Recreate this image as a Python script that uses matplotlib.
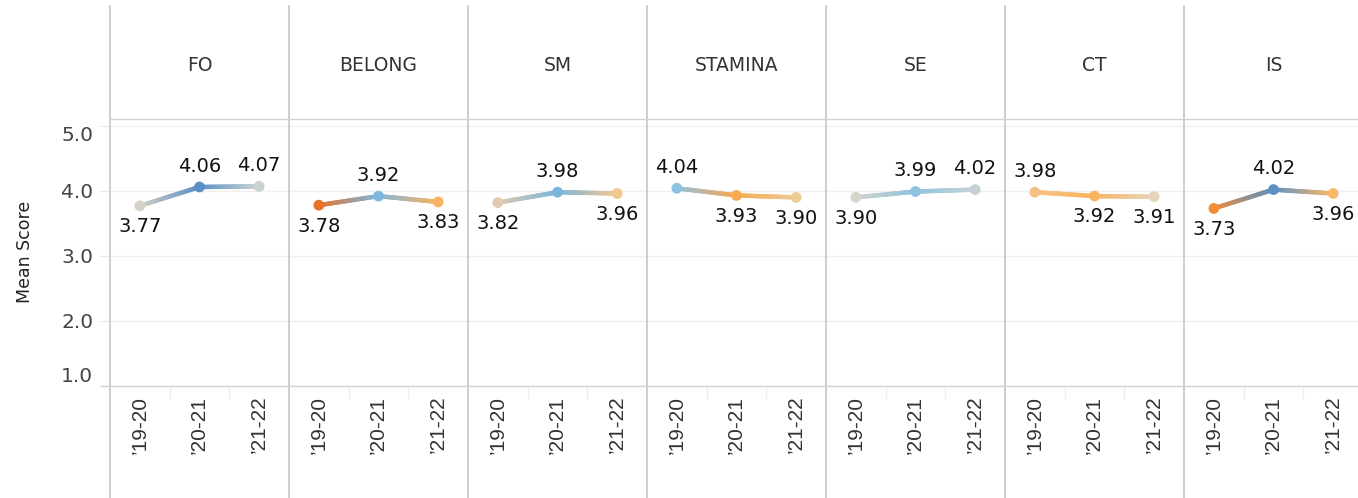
import numpy as np
import matplotlib.pyplot as plt
from matplotlib.collections import LineCollection
from matplotlib.colors import to_rgb
from matplotlib.lines import Line2D

# mean score per construct and school year
constructs = ["FO", "BELONG", "SM", "STAMINA", "SE", "CT", "IS"]
years = ["\u201919-20", "\u201920-21", "\u201921-22"]
scores = {
    "FO":      [3.77, 4.06, 4.07],
    "BELONG":  [3.78, 3.92, 3.83],
    "SM":      [3.82, 3.98, 3.96],
    "STAMINA": [4.04, 3.93, 3.90],
    "SE":      [3.90, 3.99, 4.02],
    "CT":      [3.98, 3.92, 3.91],
    "IS":      [3.73, 4.02, 3.96],
}
# colour of each point (orange-blue diverging scale)
point_colors = {
    "FO":      ["#d6d2c6", "#5b8fc6", "#c9d3d3"],
    "BELONG":  ["#e8722a", "#7fb6dd", "#f9b25f"],
    "SM":      ["#e0cdb0", "#7ab4dc", "#f0c890"],
    "STAMINA": ["#8ec0e2", "#f7a950", "#efcb96"],
    "SE":      ["#d5d5ca", "#90c2e0", "#c5d3d6"],
    "CT":      ["#f5c285", "#f8b560", "#e5d5bc"],
    "IS":      ["#f08e35", "#5b90c5", "#f8b868"],
}
# where the value label sits: +1 above the point, -1 below
label_side = {
    "FO":      [-1, 1, 1],
    "BELONG":  [-1, 1, -1],
    "SM":      [-1, 1, -1],
    "STAMINA": [1, -1, -1],
    "SE":      [-1, 1, 1],
    "CT":      [1, -1, -1],
    "IS":      [-1, 1, -1],
}
yticks = [1.0, 2.0, 3.0, 4.0, 5.0]

W, H = 1358, 498
fig = plt.figure(figsize=(W / 100, H / 100), dpi=100)
fig.patch.set_facecolor("white")

def fx(px):
    return px / W

def fy(py):
    return 1 - py / H

x0, pw = 110, 179
plot_top, plot_bot = 120, 386
border = "#c6c6c6"

for i, name in enumerate(constructs):
    left = x0 + i * pw
    # header cell
    fig.text(fx(left + pw / 2), fy(65), name, ha="center", va="center",
             fontsize=13.5, color="#333333")

    ax = fig.add_axes([fx(left), fy(plot_bot), fx(pw), (plot_bot - plot_top) / H])
    ax.set_xlim(-0.5, 2.5)
    ax.set_ylim(1.0, 5.09)
    for s in ax.spines.values():
        s.set_visible(False)
    ax.set_yticks(yticks)
    ax.yaxis.grid(True, color="#efefef", linewidth=1)
    ax.set_axisbelow(True)

    xs = np.arange(len(years))
    ys = np.array(scores[name])
    cols = [to_rgb(c) for c in point_colors[name]]

    # gradient line between consecutive points
    segs, segcols = [], []
    n = 40
    for k in range(len(xs) - 1):
        t = np.linspace(0, 1, n + 1)
        px = xs[k] + (xs[k + 1] - xs[k]) * t
        py = ys[k] + (ys[k + 1] - ys[k]) * t
        for j in range(n):
            segs.append([(px[j], py[j]), (px[j + 1], py[j + 1])])
            tm = (t[j] + t[j + 1]) / 2
            segcols.append(tuple(np.array(cols[k]) * (1 - tm) + np.array(cols[k + 1]) * tm))
    lc = LineCollection(segs, colors=segcols, linewidths=3.2, capstyle="round", zorder=2)
    ax.add_collection(lc)
    ax.scatter(xs, ys, s=60, c=point_colors[name], zorder=3, linewidths=0)

    for k in range(len(xs)):
        ax.annotate(f"{ys[k]:.2f}", (xs[k], ys[k]),
                    xytext=(0, 15 * label_side[name][k]), textcoords="offset points",
                    ha="center", va="center", fontsize=14, color="#111111")

    ax.set_xticks(xs)
    ax.set_xticklabels(years, rotation=90, fontsize=15, color="#333333",
                       fontfamily="Liberation Sans")
    ax.tick_params(axis="x", length=0, pad=7)
    ax.set_xticks([0.5, 1.5], minor=True)
    ax.tick_params(axis="x", which="minor", length=9, color="#eeeeee", width=1)
    if i == 0:
        ax.set_yticklabels([f"{v:.1f}" for v in yticks], fontsize=14.5, color="#444444")
        ax.tick_params(axis="y", length=8, color="#e8e8e8", pad=4)
        labels = ax.get_yticklabels()
        labels[0].set_va("bottom")
        labels[-1].set_va("top")
    else:
        ax.tick_params(axis="y", length=0, labelleft=False)

# panel borders
for i in range(len(constructs)):
    xl = fx(x0 + i * pw)
    fig.add_artist(Line2D([xl, xl], [fy(6), fy(H)], color=border, linewidth=1.2))
fig.add_artist(Line2D([fx(x0), 1], [fy(119), fy(119)], color="#d2d2d2", linewidth=1))
fig.add_artist(Line2D([fx(102), 1], [fy(plot_bot), fy(plot_bot)], color="#d2d2d2", linewidth=1))

fig.text(fx(25), fy(252), "Mean Score", rotation=90, ha="center", va="center",
         fontsize=12.5, color="#222222")

fig.savefig("out.png", dpi=100)
